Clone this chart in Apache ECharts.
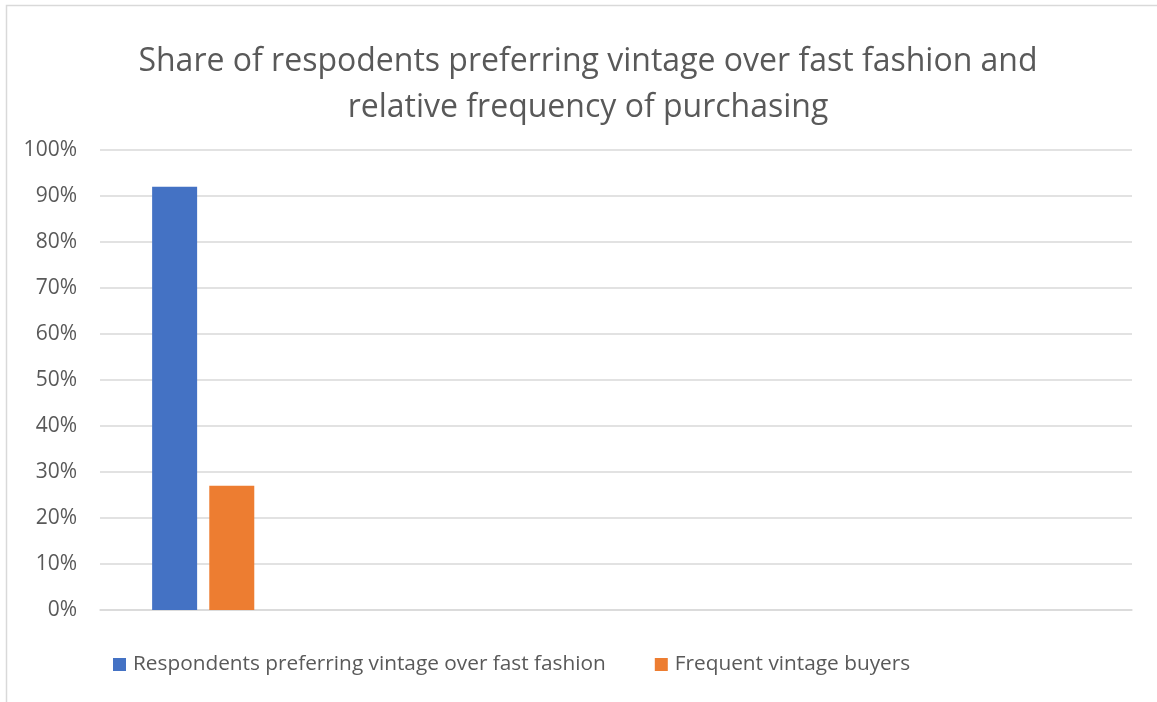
<!DOCTYPE html>
<html>
<head>
<meta charset="utf-8">
<script src="https://cdn.jsdelivr.net/npm/echarts@6/dist/echarts.min.js"></script>
<style>
html,body{margin:0;padding:0;background:#fff;}
#chart{width:1157px;height:702px;}
</style>
</head>
<body>
<div id="chart"></div>
<script>
const titleText = 'Share of respodents preferring vintage over fast fashion and\nrelative frequency of purchasing';
const categories = ['', '', '', '', ''];
const seriesNames = ['Respondents preferring vintage over fast fashion', 'Frequent vintage buyers'];
const preferVintage = [0.92, null, null, null, null];
const frequentBuyers = [0.27, null, null, null, null];
const yTicks = [0, 0.1, 0.2, 0.3, 0.4, 0.5, 0.6, 0.7, 0.8, 0.9, 1.0];

const chart = echarts.init(document.getElementById('chart'), null, {renderer: 'canvas'});
const font = '"Open Sans", "Noto Sans", sans-serif';
chart.setOption({
  animation: false,
  backgroundColor: '#ffffff',
  graphic: [{
    type: 'rect', silent: true, z: -10,
    shape: {x: 6.5, y: 5.5, width: 1300, height: 900},
    style: {fill: 'none', stroke: '#d9d9d9', lineWidth: 1.5}
  }],
  title: {
    text: titleText,
    left: 588, top: 39,
    textAlign: 'center',
    padding: 0,
    textStyle: {fontFamily: font, fontSize: 32, fontWeight: 'normal', color: '#595959', lineHeight: 46, align: 'center'}
  },
  legend: {
    bottom: 22, left: 108,
    itemWidth: 13, itemHeight: 13, itemGap: 49,
    icon: 'rect',
    textStyle: {fontFamily: font, fontSize: 20.8, color: '#595959', padding: [0, 0, 0, 2]},
    data: seriesNames
  },
  grid: {left: 100, right: 25, top: 150, bottom: 92, containLabel: false},
  xAxis: {
    type: 'category', data: categories,
    axisLine: {show: true, lineStyle: {color: '#d9d9d9', width: 1.5}},
    axisTick: {show: false}, axisLabel: {show: false}
  },
  yAxis: {
    type: 'value', min: 0, max: 1, interval: 0.1,
    axisLine: {show: false}, axisTick: {show: false},
    splitLine: {lineStyle: {color: '#d9d9d9', width: 1.5}},
    axisLabel: {
      fontFamily: font, fontSize: 21, color: '#595959', margin: 23,
      formatter: v => Math.round(v * 100) + '%'
    }
  },
  series: [
    {name: seriesNames[0], type: 'bar', data: preferVintage, barWidth: 45, barGap: '27%', itemStyle: {color: '#4472c4'}},
    {name: seriesNames[1], type: 'bar', data: frequentBuyers, barWidth: 45, barGap: '27%', itemStyle: {color: '#ed7d31'}}
  ]
});
</script>
</body>
</html>
